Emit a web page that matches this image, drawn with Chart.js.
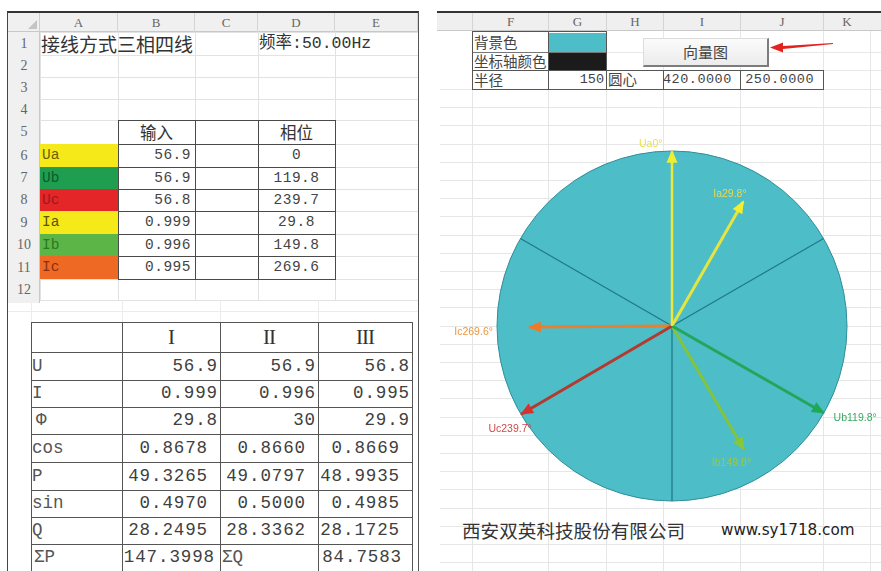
<!DOCTYPE html>
<html lang="zh-CN">
<head>
<meta charset="UTF-8">
<title>向量图</title>
<script src="https://cdn.jsdelivr.net/npm/chart.js"></script>
<style>
  body { margin: 0; width: 881px; height: 571px; overflow: hidden; background: #fff; position: relative;
         font-family: "Liberation Mono", "Noto Sans CJK SC", monospace; color: #333; }
  .a { position: absolute; box-sizing: border-box; white-space: nowrap; overflow: visible; }
  .cjk { font-family: "Noto Sans CJK SC", sans-serif; }
  .hdr { font-family: "Liberation Serif", serif; font-size: 13px; color: #666; text-align: center; }
</style>
</head>
<body>
<div id="sheet"></div>
<svg class="a" style="left:760px;top:36px" width="80" height="20">
  <polygon points="10,11.5 23,6.5 23,10 73,7 73,8 23,13 23,16.5" fill="#e3231f"/>
</svg>
<canvas id="vectorChart" width="441" height="482" style="position:absolute;left:440px;top:89px"></canvas>

<script>
// ---- data ----
const phaseNames  = ['Ua', 'Ub', 'Uc', 'Ia', 'Ib', 'Ic'];
const phaseInputs = [56.9, 56.9, 56.8, 0.999, 0.996, 0.995];
const phaseAngles = [0, 119.8, 239.7, 29.8, 149.8, 269.6];

const groupNames = ['I', 'II', 'III'];
const rowU   = [56.9, 56.9, 56.8];
const rowI   = [0.999, 0.996, 0.995];
const rowPhi = [29.8, 30, 29.9];
const rowCos = [0.8678, 0.8660, 0.8669];
const rowP   = [49.3265, 49.0797, 48.9935];
const rowSin = [0.4970, 0.5000, 0.4985];
const rowQ   = [28.2495, 28.3362, 28.1725];
const sumP = 147.3998;
const sumQ = 84.7583;

const frequency = 50.00;
const radius = 150;
const circleCenter = [420, 250];

// ---- styles ----
const cellFill  = ['#f6e91a', '#1f9e4f', '#e52629', '#f6e91a', '#5cb547', '#ee6a24'];
const cellText  = ['#6b5f00', '#0d5a2a', '#9a1a1a', '#5e5400', '#2a7a20', '#8a3010'];
const lineColor = ['#ebea3c', '#23a65a', '#b43a30', '#e6e540', '#82c43c', '#ea7f2c'];
const headColor = ['#efee30', '#1fa856', '#d8302a', '#efee30', '#86c83a', '#ef7a26'];
const textColor = ['#ece23e', '#3aa862', '#d24848', '#ecd848', '#a0c83a', '#f0943a'];
const labelOffset = [[-33, -7], [10, 5], [-33, 15], [-30, -8], [-32, 14], [-75, 5]];

const sheet = document.getElementById('sheet');
function cell(x, y, w, h, text, css, cls) {
    const d = document.createElement('div');
    d.className = 'a' + (cls ? ' ' + cls : '');
    d.style.cssText = `left:${x}px;top:${y}px;width:${w}px;height:${h}px;line-height:${h}px;` + (css || '');
    if (text !== undefined && text !== null) d.textContent = text;
    sheet.appendChild(d);
    return d;
}
function hline(x1, x2, y, color, w) { cell(x1, y, x2 - x1, w || 1, null, 'background:' + color); }
function vline(x, y1, y2, color, w) { cell(x, y1, w || 1, y2 - y1, null, 'background:' + color); }

// ================= left sheet =================
const colsL = [40, 118, 195, 258, 335, 418];
const rowsL = [32, 55, 77, 99, 120, 144, 167, 189, 211, 234, 256, 279, 300];

// grid
rowsL.forEach(y => hline(40, 418, y, '#e2e2e2'));
colsL.forEach(x => vline(x, 32, 300, '#e2e2e2'));
// strip under row 12
hline(8, 418, 311, '#ececec');
[31, 122, 220, 318].forEach(x => vline(x, 300, 322, '#ececec'));

// headers
cell(8, 13, 410, 19, null, 'background:#f0f0f0;border-bottom:1px solid #c8c8c8');
cell(8, 13, 32, 19, null, 'border-right:1px solid #cfcfcf');
cell(28, 20, 0, 0, null, 'border-left:9px solid transparent;border-bottom:9px solid #c4c4c4;line-height:0');
['A', 'B', 'C', 'D', 'E'].forEach((c, i) =>
    cell(colsL[i], 13, colsL[i + 1] - colsL[i], 19, c, 'border-right:1px solid #d4d4d4', 'hdr'));
cell(8, 32, 32, 271, null, 'background:#f0f0f0;border-right:1px solid #c8c8c8');
for (let r = 0; r < 12; r++) {
    cell(8, rowsL[r], 32, rowsL[r + 1] - rowsL[r], String(r + 1), 'font-size:14px', 'hdr');
}

// row 1
cell(41, 32, 160, 23, '接线方式三相四线', 'font-size:19px;color:#333', 'cjk');
cell(259, 32, 160, 23, '频率:' + frequency.toFixed(2) + 'Hz', 'font-size:16.5px;color:#333');

// table 1
cell(118, 120, 77, 24, '输入', 'text-align:center;font-size:16.5px', 'cjk');
cell(258, 120, 77, 24, '相位', 'text-align:center;font-size:16.5px', 'cjk');
phaseNames.forEach((n, i) => {
    const y = rowsL[i + 5], h = rowsL[i + 6] - y;
    cell(40, y, 78, h, n, `background:${cellFill[i]};color:${cellText[i]};font-size:14.5px;padding-left:2px`);
    cell(118, y, 77, h, String(phaseInputs[i]), 'text-align:right;padding-right:4px;font-size:14.5px;letter-spacing:0.5px;color:#444');
    cell(258, y, 77, h, String(phaseAngles[i]), 'text-align:center;font-size:14.5px;letter-spacing:0.5px;color:#444');
});
for (let r = 4; r <= 11; r++) hline(118, 336, rowsL[r], '#4a4a4a');
[118, 195, 258, 335].forEach(x => vline(x, 120, 280, '#4a4a4a'));

// table 2
const cols2 = [31, 122, 220, 318, 412];
const rows2 = [322, 352, 380, 407, 434, 462, 490, 517, 544, 571];
const numCss = 'text-align:right;font-size:17.5px;letter-spacing:0.9px;color:#404040;';
groupNames.forEach((g, i) =>
    cell(cols2[i + 1], rows2[0], cols2[i + 2] - cols2[i + 1], rows2[1] - rows2[0], g,
        'text-align:center;font-family:"Liberation Serif",serif;font-size:21px;letter-spacing:-1px;color:#333'));
const rowLabels = ['U', 'I', 'Φ', 'cos', 'P', 'sin', 'Q'];
const rowVals = [rowU, rowI, rowPhi, rowCos, rowP, rowSin, rowQ];
rowLabels.forEach((lab, r) => {
    const y = rows2[r + 1], h = rows2[r + 2] - y;
    cell(cols2[0], y, 91, h, lab, 'font-size:17.5px;color:#555;padding-left:' + (lab === 'Φ' ? 5 : 1) + 'px');
    rowVals[r].forEach((v, c) => {
        const txt = r >= 3 ? v.toFixed(4) : String(v);
        const pad = r >= 3 ? 12 : 2;
        cell(cols2[c + 1], y, cols2[c + 2] - cols2[c + 1], h, txt, numCss + `padding-right:${pad}px`);
    });
});
{
    const y = rows2[8], h = rows2[9] - y;
    cell(cols2[0], y, 91, h, 'ΣP', 'font-size:17.5px;color:#555;padding-left:3px');
    cell(cols2[1], y, 98, h, sumP.toFixed(4), numCss + 'padding-right:5px');
    cell(cols2[2], y, 98, h, 'ΣQ', 'font-size:17.5px;color:#555;padding-left:2px');
    cell(cols2[3], y, 94, h, sumQ.toFixed(4), numCss + 'padding-right:10px');
}
rows2.forEach(y => hline(31, 413, y, '#555'));
cols2.forEach(x => vline(x, 322, 571, '#555'));

// frame
cell(7, 11, 412, 600, null, 'border-top:2px solid #333;border-left:1.5px solid #444;border-right:1.5px solid #555');

// ================= right sheet =================
const colsR = [472, 548, 606, 663, 740, 823, 870];
// grid
for (let y = 89; y < 571; y += 18.2) hline(440, 881, Math.round(y), '#e6e6e6');
hline(606, 881, 52, '#e8e8e8');
hline(823, 881, 70, '#e8e8e8');
colsR.forEach(x => vline(x, 31, 571, '#e6e6e6'));
// header
cell(437, 13, 444, 18, null, 'background:#efefef;border-bottom:1px solid #c8c8c8');
cell(437, 11, 444, 2, null, 'background:#333');
const lettersR = ['F', 'G', 'H', 'I', 'J', 'K'];
lettersR.forEach((c, i) =>
    cell(colsR[i], 13, colsR[i + 1] - colsR[i], 18, c, 'border-left:1px solid #d4d4d4', 'hdr'));
// settings table
cell(548, 33, 58, 19, null, 'background:#4dbdc7');
cell(548, 52, 58, 18, null, 'background:#1b1b1b');
cell(474, 31, 74, 21, '背景色', 'font-size:14.5px;color:#444', 'cjk');
cell(474, 52, 76, 18, '坐标轴颜色', 'font-size:14.5px;color:#444', 'cjk');
cell(474, 70, 74, 19, '半径', 'font-size:14.5px;color:#444', 'cjk');
cell(548, 70, 58, 19, String(radius), 'text-align:right;padding-right:2px;font-size:13.5px;color:#444');
cell(608, 69, 55, 19, '圆心', 'font-size:14.5px;color:#444', 'cjk');
cell(663, 70, 77, 19, circleCenter[0].toFixed(4), 'text-align:right;padding-right:9px;font-size:13.5px;letter-spacing:0.5px;color:#444');
cell(740, 70, 83, 19, circleCenter[1].toFixed(4), 'text-align:right;padding-right:9px;font-size:13.5px;letter-spacing:0.5px;color:#444');
hline(472, 607, 31, '#555');
hline(472, 607, 52, '#777');
hline(472, 824, 70, '#555');
hline(472, 824, 89, '#555');
[472, 548, 606].forEach(x => vline(x, 31, 90, '#555'));
[663, 740, 823].forEach(x => vline(x, 70, 90, '#555'));
// button
cell(643, 38, 126, 29, '向量图',
    'text-align:center;line-height:26px;font-size:15px;color:#444;background:linear-gradient(#fbfbfb,#ececec);' +
    'border:1px solid #dcdcdc;border-right:2px solid #7c7c7c;border-bottom:2px solid #7c7c7c', 'cjk');

// footer
cell(462, 517, 240, 26, '西安双英科技股份有限公司', 'font-size:18.6px;color:#333', 'cjk');
cell(721, 517, 150, 26, 'www.sy1718.com', 'font-family:"DejaVu Sans",sans-serif;font-size:15.2px;color:#222');

// ================= vector chart =================
const canvasW = 441, canvasH = 482;
const centerPx = [232, 237];           // circle centre inside the canvas
const pxPerUnit = 175 / radius;
const U_FULL = 57, I_FULL = 1.22;      // magnitude drawn at full radius

function tip(angle, len) {
    const t = angle * Math.PI / 180;
    return { x: len * Math.sin(t), y: len * Math.cos(t) };
}

const vectorSets = phaseNames.map((n, i) => {
    const full = n[0] === 'U' ? U_FULL : I_FULL;
    return {
        label: n + phaseAngles[i] + '°',
        data: [{ x: 0, y: 0 }, tip(phaseAngles[i], phaseInputs[i] / full * radius)],
        showLine: true,
        borderColor: lineColor[i],
        borderWidth: n === 'Ua' ? 2.5 : 3,
        pointRadius: 0,
        arrow: true,
        headColor: headColor[i],
        textColor: textColor[i],
        offset: labelOffset[i]
    };
});
const axisSets = [60, 180, 300].map(a => ({
    data: [{ x: 0, y: 0 }, tip(a, radius)],
    showLine: true,
    borderColor: '#1f7a88',
    borderWidth: 1.3,
    pointRadius: 0
}));

const circleBg = {
    id: 'circleBg',
    beforeDatasetsDraw(chart) {
        const { ctx, scales: { x, y } } = chart;
        const px = x.getPixelForValue(0), py = y.getPixelForValue(0);
        const r = x.getPixelForValue(radius) - px;
        ctx.save();
        ctx.beginPath();
        ctx.arc(px, py, r, 0, Math.PI * 2);
        ctx.fillStyle = '#4dbdc7';
        ctx.fill();
        ctx.lineWidth = 1;
        ctx.strokeStyle = '#2f8d98';
        ctx.stroke();
        ctx.restore();
    }
};

const arrowHeads = {
    id: 'arrowHeads',
    afterDatasetsDraw(chart) {
        const ctx = chart.ctx;
        chart.data.datasets.forEach((ds, i) => {
            if (!ds.arrow) return;
            const pts = chart.getDatasetMeta(i).data;
            const a = pts[0], b = pts[1];
            const ang = Math.atan2(b.y - a.y, b.x - a.x);
            const ux = Math.cos(ang), uy = Math.sin(ang);
            const ex = b.x + ux * 1.5, ey = b.y + uy * 1.5;
            const bx = ex - ux * 13, by = ey - uy * 13;
            ctx.save();
            ctx.beginPath();
            ctx.moveTo(ex, ey);
            ctx.lineTo(bx - uy * 5.5, by + ux * 5.5);
            ctx.lineTo(bx + uy * 5.5, by - ux * 5.5);
            ctx.closePath();
            ctx.fillStyle = ds.headColor;
            ctx.fill();
            ctx.font = '10.5px "Liberation Sans", sans-serif';
            ctx.textAlign = 'left';
            ctx.textBaseline = 'middle';
            ctx.fillStyle = ds.textColor;
            ctx.fillText(ds.label, b.x + ds.offset[0], b.y + ds.offset[1]);
            ctx.restore();
        });
    }
};

new Chart(document.getElementById('vectorChart'), {
    type: 'scatter',
    data: { datasets: vectorSets.concat(axisSets) },
    options: {
        responsive: false,
        animation: false,
        events: [],
        layout: { padding: 0 },
        plugins: { legend: { display: false }, tooltip: { enabled: false } },
        scales: {
            x: { type: 'linear', display: false,
                 min: -centerPx[0] / pxPerUnit, max: (canvasW - centerPx[0]) / pxPerUnit },
            y: { type: 'linear', display: false,
                 min: -(canvasH - centerPx[1]) / pxPerUnit, max: centerPx[1] / pxPerUnit }
        }
    },
    plugins: [circleBg, arrowHeads]
});
</script>
</body>
</html>
